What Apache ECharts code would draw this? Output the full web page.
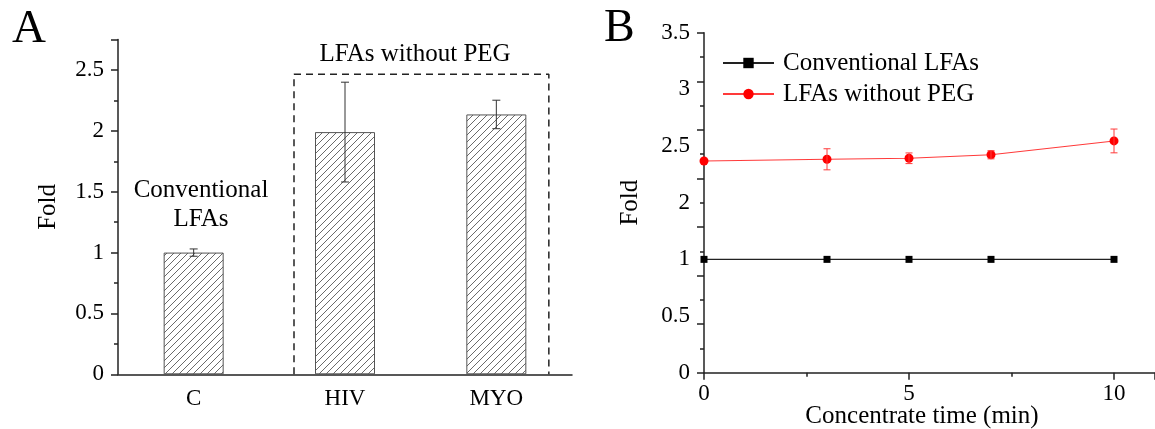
<!DOCTYPE html>
<html><head><meta charset="utf-8">
<script src="https://cdn.jsdelivr.net/npm/echarts@6/dist/echarts.min.js"></script>
<style>html,body{margin:0;padding:0;background:#fff}#c{width:1155px;height:429px}</style>
</head><body><div id="c"></div>
<script>
// ---- Panel A data ----
const catsA = ['C', 'HIV', 'MYO'];
const foldA = [1.0, 1.99, 2.135];
const errA = [0.03, 0.41, 0.117];
const boxX = [1.163, 2.847];   // dashed group box (x in category units)
const boxTop = 2.465;
// ---- Panel B data ----
const timeB = [0, 3, 5, 7, 10];
const convB = [1, 1, 1, 1, 1];
const pegB = [2.368, 2.383, 2.392, 2.423, 2.545];
const pegErrB = [0, 0.093, 0.047, 0.036, 0.105];
const seriesNamesB = ['Conventional LFAs', 'LFAs without PEG'];

const FONT = 'Liberation Serif';
const chart = echarts.init(document.getElementById('c'), null, {renderer: 'canvas'});

function hatch() {
  const s = 7, c = document.createElement('canvas');
  c.width = s; c.height = s;
  const g = c.getContext('2d');
  g.strokeStyle = '#6a6a6a'; g.lineWidth = 1;
  g.beginPath();
  g.moveTo(0, s); g.lineTo(s, 0);
  g.moveTo(-1, 1); g.lineTo(1, -1);
  g.moveTo(s - 1, s + 1); g.lineTo(s + 1, s - 1);
  g.stroke();
  return c;
}

const lineSt = {color: '#222', width: 1.5};
const labelSt = (m, extra) => Object.assign({color: '#000', fontFamily: FONT, fontSize: 23, margin: m}, extra || {});

const errRender = (color, cap) => function (params, api) {
  const x = api.value(0), v = api.value(1), e = api.value(2);
  if (!e) return null;
  const top = api.coord([x, v + e]), bot = api.coord([x, v - e]);
  const st = {stroke: color, lineWidth: 1};
  return {type: 'group', children: [
    {type: 'line', shape: {x1: top[0], y1: top[1], x2: bot[0], y2: bot[1]}, style: st},
    {type: 'line', shape: {x1: top[0] - cap, y1: top[1], x2: top[0] + cap, y2: top[1]}, style: st},
    {type: 'line', shape: {x1: bot[0] - cap, y1: bot[1], x2: bot[0] + cap, y2: bot[1]}, style: st}
  ]};
};

const option = {
  animation: false,
  backgroundColor: '#fff',
  grid: [
    {left: 118, right: 583, top: 39.6, bottom: 54.7},
    {left: 704, right: -9, top: 32.7, bottom: 56.3}
  ],
  xAxis: [
    {gridIndex: 0, type: 'category', data: catsA, boundaryGap: true,
      axisLine: {lineStyle: lineSt}, splitLine: {show: false},
      axisTick: {lineStyle: lineSt, length: 7, alignWithLabel: false, interval: 0},
      axisLabel: labelSt(13)},
    {gridIndex: 0, type: 'category', data: catsA, boundaryGap: true, position: 'bottom',
      axisLine: {show: false}, axisLabel: {show: false}, splitLine: {show: false},
      axisTick: {alignWithLabel: true, length: 7, lineStyle: lineSt}},
    {gridIndex: 0, type: 'value', min: 0, max: 3, show: false},
    {gridIndex: 1, type: 'value', min: 0, max: 11, interval: 5,
      axisLine: {lineStyle: lineSt}, splitLine: {show: false},
      axisTick: {lineStyle: lineSt, length: 7},
      minorTick: {show: true, splitNumber: 2, length: 4, lineStyle: lineSt},
      axisLabel: labelSt(10, {showMaxLabel: false})}
  ],
  yAxis: [
    {gridIndex: 0, type: 'value', min: 0, max: 2.75, interval: 0.5,
      axisLine: {lineStyle: lineSt}, splitLine: {show: false},
      axisTick: {lineStyle: lineSt, length: 7},
      minorTick: {show: true, splitNumber: 2, length: 4, lineStyle: lineSt},
      axisLabel: labelSt(14, {showMaxLabel: false}),
      name: 'Fold', nameLocation: 'middle', nameGap: 57, nameRotate: 90,
      nameTextStyle: {color: '#000', fontFamily: FONT, fontSize: 25}},
    // value axis of panel B (with the 1–2 break), draws the labels
    {gridIndex: 1, type: 'value', min: 0, max: 3.5, interval: 0.5,
      breaks: [{start: 1, end: 2, gap: 0.5}],
      breakArea: {show: false},
      axisLine: {show: false}, axisTick: {show: false}, splitLine: {show: false},
      axisLabel: labelSt(14),
      name: 'Fold', nameLocation: 'middle', nameGap: 61, nameRotate: 90,
      nameTextStyle: {color: '#000', fontFamily: FONT, fontSize: 25}},
    // uniform axis frame for panel B: continuous line and evenly spaced ticks
    {gridIndex: 1, type: 'value', min: 0, max: 3.5, interval: 0.5,
      axisLine: {lineStyle: lineSt}, splitLine: {show: false},
      axisTick: {lineStyle: lineSt, length: 7},
      minorTick: {show: true, splitNumber: 2, length: 4, lineStyle: lineSt},
      axisLabel: {show: false}, position: 'left'}
  ],
  legend: {
    left: 722, top: 50, orient: 'vertical', padding: 0,
    itemWidth: 51, itemHeight: 13, itemGap: 5,
    textStyle: {fontFamily: FONT, fontSize: 25, color: '#000', lineHeight: 26, padding: [0, 0, 0, 4]},
    data: seriesNamesB
  },
  series: [
    {type: 'bar', xAxisIndex: 0, yAxisIndex: 0, data: foldA, barWidth: 60,
      itemStyle: {color: {image: hatch(), repeat: 'repeat'}, borderColor: '#555', borderWidth: 1}},
    {type: 'custom', xAxisIndex: 0, yAxisIndex: 0, z: 5,
      data: catsA.map((c, i) => [i, foldA[i], errA[i]]),
      renderItem: errRender('#333', 4)},
    {type: 'line', xAxisIndex: 2, yAxisIndex: 0, symbol: 'none', silent: true,
      data: [[boxX[0], 0], [boxX[0], boxTop], [boxX[1], boxTop], [boxX[1], 0]],
      lineStyle: {color: '#222', width: 1.5, type: [7, 5]}},
    {name: seriesNamesB[0], type: 'line', xAxisIndex: 3, yAxisIndex: 1,
      data: timeB.map((t, i) => [t, convB[i]]),
      symbol: 'rect', symbolSize: 7, color: '#000',
      lineStyle: {color: '#222', width: 1.2}},
    {name: seriesNamesB[1], type: 'line', xAxisIndex: 3, yAxisIndex: 1,
      data: timeB.map((t, i) => [t, pegB[i]]),
      symbol: 'circle', symbolSize: 9, color: '#ff0000',
      lineStyle: {color: '#ff3a3a', width: 1.1}},
    {type: 'custom', xAxisIndex: 3, yAxisIndex: 1, z: 5,
      data: timeB.map((t, i) => [t, pegB[i], pegErrB[i]]),
      renderItem: errRender('#ff3a3a', 3.5)}
  ],
  graphic: [
    {type: 'text', x: 12, y: 6, style: {text: 'A', font: '47px "Liberation Serif"', fill: '#000'}},
    {type: 'text', x: 604, y: 6, style: {text: 'B', font: '46px "Liberation Serif"', fill: '#000'}},
    {type: 'text', x: 415, y: 54, style: {text: 'LFAs without PEG', font: '25px "Liberation Serif"', fill: '#000', textAlign: 'center', textVerticalAlign: 'middle'}},
    {type: 'text', x: 201, y: 190, style: {text: 'Conventional', font: '25px "Liberation Serif"', fill: '#000', textAlign: 'center', textVerticalAlign: 'middle'}},
    {type: 'text', x: 201, y: 219, style: {text: 'LFAs', font: '25px "Liberation Serif"', fill: '#000', textAlign: 'center', textVerticalAlign: 'middle'}},
    {type: 'text', x: 922, y: 416, style: {text: 'Concentrate time (min)', font: '25px "Liberation Serif"', fill: '#000', textAlign: 'center', textVerticalAlign: 'middle'}}
  ]
};
chart.setOption(option);
</script></body></html>
